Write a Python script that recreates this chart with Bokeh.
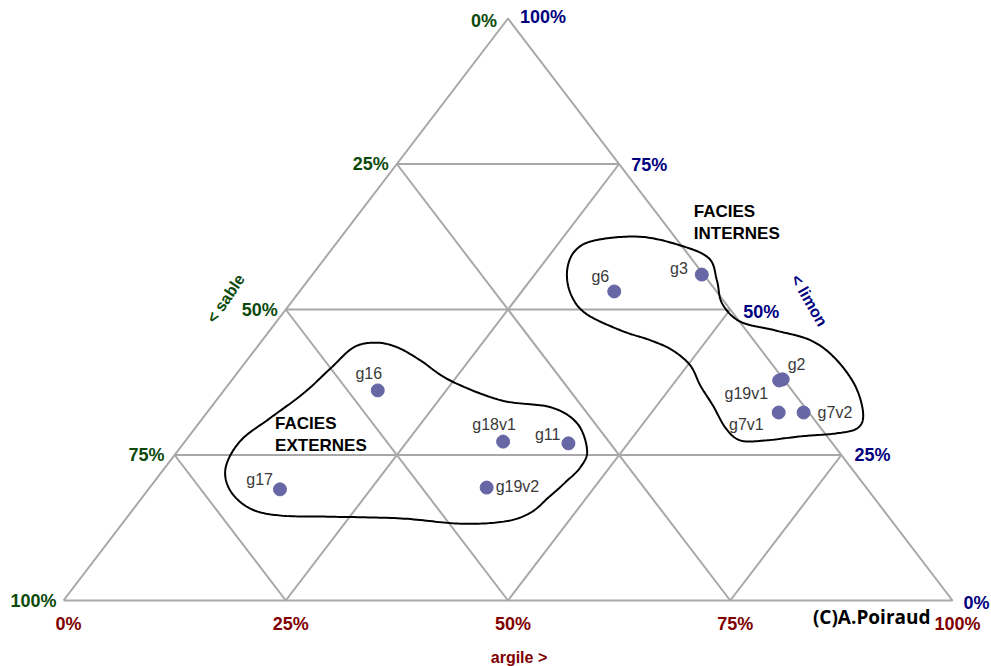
import numpy as np
from bokeh.plotting import figure
from bokeh.core.properties import value
from bokeh.embed import file_html
from bokeh.resources import INLINE

# ---------------- data (percentages) ----------------
names = ["g6", "g3", "g2", "g19v1", "g7v1", "g7v2", "g16", "g18v1", "g11", "g19v2", "g17"]
argile = [35.4, 43.8, 61.9, 61.6, 64.3, 67.1, 17.3, 35.8, 43.3, 37.9, 14.8]
limon = [53.1, 56.0, 38.0, 37.8, 32.3, 32.3, 36.1, 27.3, 27.0, 19.4, 19.1]

tick_values = [0, 25, 50, 75, 100]
tick_labels = ["0%", "25%", "50%", "75%", "100%"]
grid_levels = [25, 50, 75]

# group envelopes (argile %, limon %)
internes_argile = [28.3, 27.5, 28.9, 33.6, 38.9, 43.2, 46.0, 48.6, 52.2, 56.9, 61.7, 66.0, 70.6, 73.9,
                   74.5, 72.5, 68.8, 65.2, 62.4, 59.7, 56.3, 53.2, 50.3, 47.0, 43.7, 39.5, 34.1, 30.7]
internes_limon = [56.7, 60.1, 61.9, 62.5, 61.0, 58.8, 55.0, 51.0, 47.9, 46.4, 44.7, 41.6, 36.9, 32.1,
                  29.6, 28.7, 28.2, 27.5, 27.5, 29.6, 33.5, 36.9, 40.4, 43.0, 44.7, 46.4, 49.3, 52.7]
externes_argile = [6.8, 6.2, 7.6, 9.2, 10.1, 10.9, 13.0, 15.8, 19.6, 24.6, 32.0, 38.2, 42.6, 46.0,
                   46.7, 46.3, 45.7, 45.0, 42.9, 38.1, 30.9, 22.8, 17.1, 13.1, 9.3]
externes_limon = [22.9, 27.5, 31.4, 35.6, 39.9, 43.5, 44.3, 43.5, 41.2, 37.8, 34.4, 33.2, 30.4, 25.8,
                  22.9, 20.3, 17.7, 15.1, 13.6, 13.2, 14.1, 14.4, 14.6, 15.8, 18.9]

group_names = ["FACIES\nINTERNES", "FACIES\nEXTERNES"]
group_argile = [36.7, 7.8]
group_limon = [68.4, 32.0]

# ---------------- geometry ----------------
W, H = 991, 666
SX, SY = 889.0, 582.0          # pixels per unit of the triangle base / height
OX, OY = 63.0, 600.0           # canvas pixel of the bottom-left vertex


def tern(a, l):
    a = np.asarray(a, dtype=float) / 100.0
    l = np.asarray(l, dtype=float) / 100.0
    return a + l / 2.0, l


def px(dx, dy):
    """screen pixel offset -> data offset (dy positive = down)"""
    return dx / SX, -dy / SY


def catmull_closed(xs, ys, n=20):
    xs = np.asarray(xs); ys = np.asarray(ys)
    m = len(xs)
    ox, oy = [], []
    for i in range(m):
        p0 = np.array([xs[(i - 1) % m], ys[(i - 1) % m]])
        p1 = np.array([xs[i], ys[i]])
        p2 = np.array([xs[(i + 1) % m], ys[(i + 1) % m]])
        p3 = np.array([xs[(i + 2) % m], ys[(i + 2) % m]])
        for t in np.linspace(0, 1, n, endpoint=False):
            t2, t3 = t * t, t * t * t
            pt = 0.5 * ((2 * p1) + (-p0 + p2) * t + (2 * p0 - 5 * p1 + 4 * p2 - p3) * t2
                        + (-p0 + 3 * p1 - 3 * p2 + p3) * t3)
            ox.append(pt[0]); oy.append(pt[1])
    ox.append(ox[0]); oy.append(oy[0])
    return ox, oy


p = figure(width=W, height=H, output_backend="svg", toolbar_location=None,
           x_range=(-OX / SX, (W - OX) / SX), y_range=(-(H - OY) / SY, OY / SY),
           min_border=0, outline_line_color=None, background_fill_color="white",
           border_fill_color="white")
p.axis.visible = False
p.xgrid.visible = False
p.ygrid.visible = False

GRID = "#a8a8a8"
gx, gy = [], []
# outer triangle
tx, ty = tern([0, 100, 0, 0], [0, 0, 100, 0])
gx.append(list(tx)); gy.append(list(ty))
for g in grid_levels:
    x, y = tern([0, 100 - g], [g, g]); gx.append(list(x)); gy.append(list(y))      # constant limon
    x, y = tern([g, g], [0, 100 - g]); gx.append(list(x)); gy.append(list(y))      # constant argile
    x, y = tern([100 - g, 0], [0, 100 - g]); gx.append(list(x)); gy.append(list(y))  # constant sable
p.multi_line(gx, gy, line_color=GRID, line_width=2)

# envelopes
for ea, el in ((internes_argile, internes_limon), (externes_argile, externes_limon)):
    ex, ey = tern(ea, el)
    sx, sy = catmull_closed(ex, ey)
    p.line(sx, sy, line_color="black", line_width=2)

# points
xs, ys = tern(argile, limon)
p.scatter(xs, ys, size=13, fill_color="#6767a6", line_color="#6767a6")

FONT = value("Liberation Sans")
# point label offsets (dx, dy px, align)
lab_off = {
    "g6": (-5, -15, "right"), "g3": (-14, -6, "right"), "g2": (5, -15, "left"),
    "g19v1": (-11, 13, "right"), "g7v1": (-15, 12, "right"), "g7v2": (14, 0, "left"),
    "g16": (-9, -17, "center"), "g18v1": (-9, -17, "center"), "g11": (-8, -9, "right"),
    "g19v2": (9, -1, "left"), "g17": (-7, -10, "right"),
}
for align in ("left", "right", "center"):
    lx, ly, lt = [], [], []
    for n, x, y in zip(names, xs, ys):
        dx, dy, al = lab_off[n]
        if al != align:
            continue
        ddx, ddy = px(dx, dy)
        lx.append(x + ddx); ly.append(y + ddy); lt.append(n)
    p.text(lx, ly, text=lt, text_align=align, text_baseline="middle", text_font=FONT,
           text_font_size="16px", text_color="#3a3a3a")

GREEN, BLUE, RED = "#0c4a0c", "#00007f", "#800000"
# sable labels (left edge): sable = 100 - limon at argile = 0
sx_, sy_ = tern([0] * 5, [100 - v for v in tick_values])
s_dx = [-11, -8, -8, -10, -7]
s_dy = [2, 0, 0, 0, 0]
ox_ = [x + px(d, 0)[0] for x, d in zip(sx_, s_dx)]
oy_ = [y + px(0, d)[1] for y, d in zip(sy_, s_dy)]
p.text(ox_, oy_, text=tick_labels, text_align="right", text_baseline="middle", text_font=FONT,
       text_font_style="bold", text_font_size="18px", text_color=GREEN)

# limon labels (right edge): argile = 100 - limon
lx_, ly_ = tern([100 - v for v in tick_values], tick_values)
l_dx = [11, 13, 13, 12, 12]
l_dy = [2, 0, 2, 1, -2]
ox_ = [x + px(d, 0)[0] for x, d in zip(lx_, l_dx)]
oy_ = [y + px(0, d)[1] for y, d in zip(ly_, l_dy)]
p.text(ox_, oy_, text=tick_labels, text_align="left", text_baseline="middle", text_font=FONT,
       text_font_style="bold", text_font_size="18px", text_color=BLUE)

# argile labels (bottom)
ax_, ay_ = tern(tick_values, [0] * 5)
ox_ = [x + px(5, 0)[0] for x in ax_]
oy_ = [y + px(0, 23)[1] for y in ay_]
p.text(ox_, oy_, text=tick_labels, text_align="center", text_baseline="middle", text_font=FONT,
       text_font_style="bold", text_font_size="18px", text_color=RED)

# axis titles
bx, by = tern([50], [0])
p.text([bx[0] + px(11, 0)[0]], [by[0] + px(0, 57)[1]], text=["argile >"], text_align="center",
       text_baseline="middle", text_font=FONT, text_font_style="bold", text_font_size="16px",
       text_color=RED)
lx0, ly0 = tern([0], [50])
p.text([lx0[0] + px(-60, 0)[0]], [ly0[0] + px(0, -11)[1]], text=["< sable"], angle=np.deg2rad(56),
       text_align="center", text_baseline="middle", text_font=FONT, text_font_style="bold",
       text_font_size="16px", text_color=GREEN)
rx0, ry0 = tern([50], [50])
p.text([rx0[0] + px(79, 0)[0]], [ry0[0] + px(0, -9)[1]], text=["< limon"], angle=np.deg2rad(-60),
       text_align="center", text_baseline="middle", text_font=FONT, text_font_style="bold",
       text_font_size="16px", text_color=BLUE)

# group titles
gxs, gys = tern(group_argile, group_limon)
p.text(list(gxs), list(gys), text=group_names, text_align="left", text_baseline="top",
       text_font=FONT, text_font_style="bold", text_font_size="17px", text_color="black",
       text_line_height=1.15)

# credit
cx, cy = tern([100], [0])
p.text([cx[0] + px(-22, 0)[0]], [cy[0] + px(0, 16)[1]], text=["(C)A.Poiraud"], text_align="right",
       text_baseline="middle", text_font=value("Open Sans"), text_font_style="bold",
       text_font_size="19px", text_color="black")

open("out.html", "w").write(file_html(p, INLINE))
